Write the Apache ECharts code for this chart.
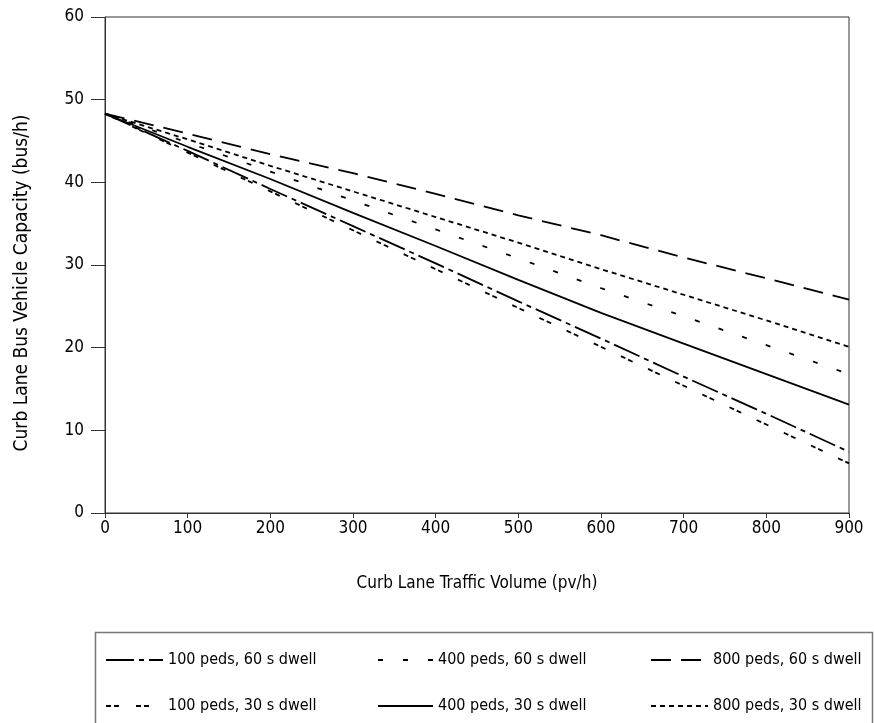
<!DOCTYPE html>
<html>
<head>
<meta charset="utf-8">
<script src="https://cdn.jsdelivr.net/npm/echarts@6/dist/echarts.min.js"></script>
<style>
html,body{margin:0;padding:0;background:#fff;}
#chart{width:874px;height:723px;}
</style>
</head>
<body>
<div id="chart"></div>
<script>
const xValues = [0, 100, 200, 300, 400, 500, 600, 700, 800, 900];
const seriesNames = [
  '100 peds, 60 s dwell', '400 peds, 60 s dwell', '800 peds, 60 s dwell',
  '100 peds, 30 s dwell', '400 peds, 30 s dwell', '800 peds, 30 s dwell'
];
const peds100dwell60 = [48.3, 43.8, 39.2, 34.7, 30.2, 25.6, 21.1, 16.5, 12.0, 7.4];
const peds400dwell60 = [48.3, 44.8, 41.3, 37.8, 34.3, 30.8, 27.2, 23.8, 20.3, 16.8];
const peds800dwell60 = [48.3, 45.9, 43.4, 41.1, 38.6, 36.0, 33.6, 30.9, 28.4, 25.8];
const peds100dwell30 = [48.3, 43.6, 38.9, 34.2, 29.5, 24.8, 20.1, 15.4, 10.7, 6.0];
const peds400dwell30 = [48.3, 44.3, 40.4, 36.3, 32.3, 28.2, 24.2, 20.5, 16.8, 13.1];
const peds800dwell30 = [48.3, 45.2, 42.0, 38.9, 35.8, 32.7, 29.5, 26.4, 23.3, 20.1];
const yTicks = [0, 10, 20, 30, 40, 50, 60];
const xTitle = 'Curb Lane Traffic Volume (pv/h)';
const yTitle = 'Curb Lane Bus Vehicle Capacity (bus/h)';

const seriesData = [peds100dwell60, peds400dwell60, peds800dwell60, peds100dwell30, peds400dwell30, peds800dwell30];
const dashes = [[28, 5, 5, 5], [5, 20], [20, 10], [5, 3, 5, 17], 'solid', [5, 4]];

const FONT = "'Liberation Sans Narrow', 'DejaVu Sans Condensed', 'Liberation Sans', sans-serif";

const chart = echarts.init(document.getElementById('chart'), null, {renderer: 'canvas'});

const series = seriesNames.map((name, i) => ({
  name: name,
  type: 'line',
  symbol: 'none',
  data: xValues.map((x, j) => [x, seriesData[i][j]]),
  lineStyle: {color: '#000', width: 1.8, type: dashes[i]},
  itemStyle: {color: '#000'},
  emphasis: {disabled: true},
  animation: false
}));

const legendPos = [
  {left: 105, top: 652, w: 57}, {left: 377, top: 652, w: 55}, {left: 650, top: 652, w: 57},
  {left: 105, top: 698, w: 57}, {left: 377, top: 698, w: 55}, {left: 650, top: 698, w: 57}
];
const legends = seriesNames.map((name, i) => ({
  data: [name],
  left: legendPos[i].left,
  top: legendPos[i].top,
  padding: 0,
  itemWidth: legendPos[i].w,
  itemHeight: 16,
  selectedMode: false,
  itemStyle: {opacity: 0},
  textStyle: {fontFamily: FONT, fontSize: 16, color: '#000'}
}));

chart.setOption({
  backgroundColor: '#fff',
  animation: false,
  grid: {left: 105, right: 25, top: 17, bottom: 210, show: true, borderColor: '#333', borderWidth: 1, backgroundColor: 'transparent'},
  xAxis: {
    type: 'value', min: 0, max: 900, interval: 100,
    name: xTitle, nameLocation: 'middle', nameGap: 62,
    nameTextStyle: {fontFamily: FONT, fontSize: 17, color: '#000'},
    axisLine: {show: true, lineStyle: {color: '#333', width: 1}},
    axisTick: {show: true, length: 5, lineStyle: {color: '#333'}},
    axisLabel: {fontFamily: FONT, fontSize: 17, color: '#000', margin: 7},
    splitLine: {show: false}
  },
  yAxis: {
    type: 'value', min: 0, max: 60, interval: 10,
    axisLine: {show: true, lineStyle: {color: '#333', width: 1}},
    axisTick: {show: true, length: 14, lineStyle: {color: '#333'}},
    axisLabel: {fontFamily: FONT, fontSize: 17, color: '#000', margin: 21,
      formatter: v => yTicks.includes(v) ? String(v) : ''},
    splitLine: {show: false}
  },
  legend: legends,
  graphic: [{
    type: 'rect', left: 93, top: 630, silent: true,
    shape: {width: 777, height: 100},
    style: {fill: 'none', stroke: '#777', lineWidth: 1.5}
  }, {
    type: 'text', x: 22, y: 283, rotation: Math.PI / 2, silent: true,
    style: {text: yTitle, fontFamily: FONT, fontSize: 19, fill: '#000', align: 'center', verticalAlign: 'middle'}
  }],
  series: series
});
</script>
</body>
</html>
